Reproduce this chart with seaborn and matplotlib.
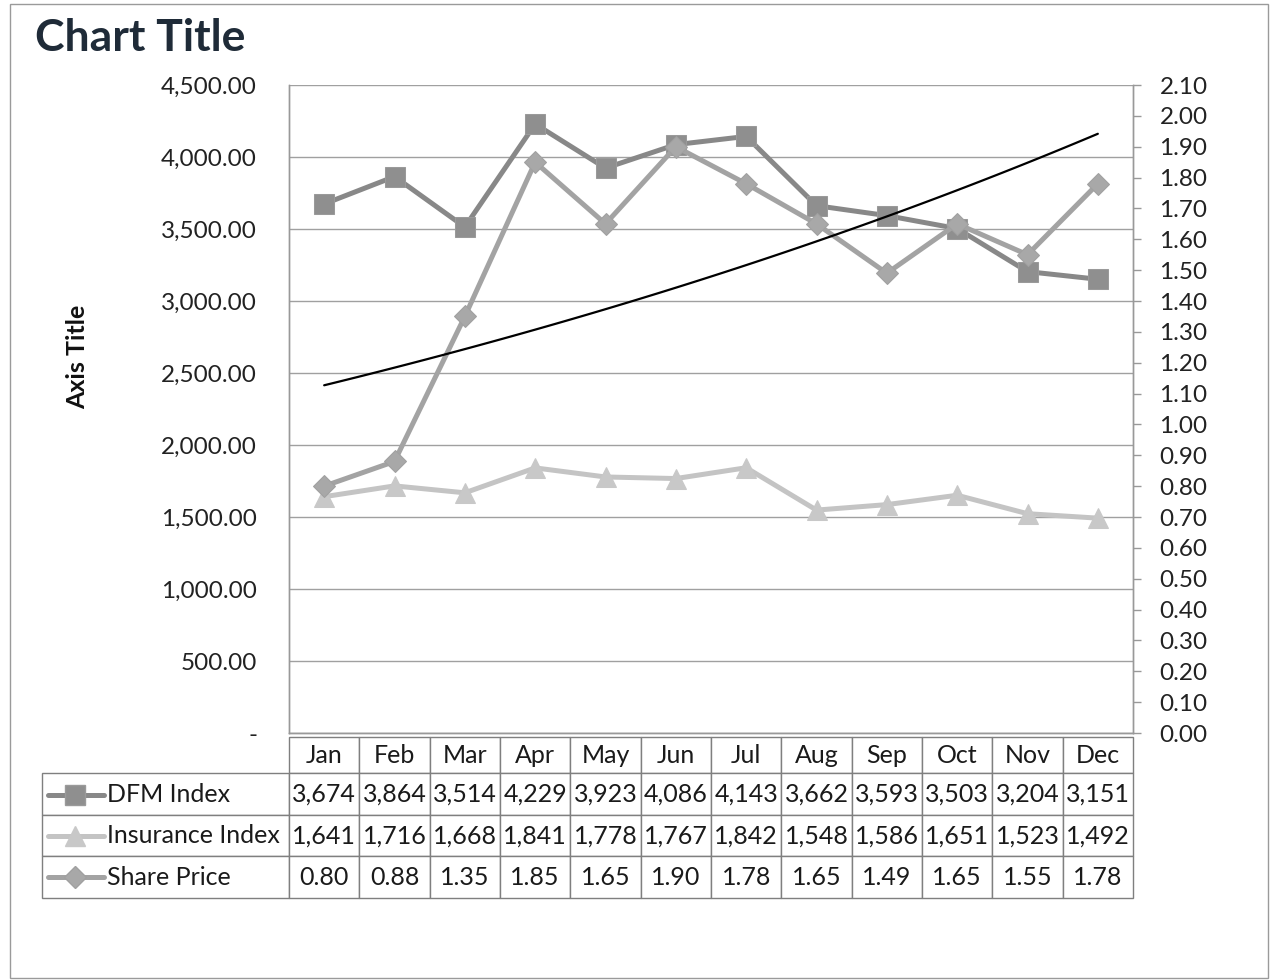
import numpy as np
import matplotlib
matplotlib.use('Agg')
import matplotlib.pyplot as plt
import seaborn as sns
from matplotlib.lines import Line2D
from matplotlib.patches import Rectangle
from matplotlib.ticker import FuncFormatter

months = ['Jan', 'Feb', 'Mar', 'Apr', 'May', 'Jun', 'Jul', 'Aug', 'Sep', 'Oct', 'Nov', 'Dec']
dfm_index = [3674, 3864, 3514, 4229, 3923, 4086, 4143, 3662, 3593, 3503, 3204, 3151]
insurance_index = [1641, 1716, 1668, 1841, 1778, 1767, 1842, 1548, 1586, 1651, 1523, 1492]
share_price = [0.80, 0.88, 1.35, 1.85, 1.65, 1.90, 1.78, 1.65, 1.49, 1.65, 1.55, 1.78]
series_names = ['DFM Index', 'Insurance Index', 'Share Price']

sns.set_style('white')
plt.rcParams['font.family'] = ['Lato', 'DejaVu Sans']

W, H = 1271, 980
fig = plt.figure(figsize=(W / 100, H / 100), dpi=100)

def fx(px):
    return px / W

def fy(py):
    return 1 - py / H

# plot area
ax = fig.add_axes([fx(289), fy(733), fx(1133) - fx(289), fy(85) - fy(733)])
ax2 = ax.twinx()

x = np.arange(len(months))
c_dfm = '#888888'
c_ins = '#c4c4c4'
c_sp = '#a3a3a3'
lw = 3.6

dfm_style = dict(color=c_dfm, marker='s', markersize=15, markerfacecolor='#8f8f8f', markeredgecolor='#9a9a9a')
ins_style = dict(color=c_ins, marker='^', markersize=14, markerfacecolor='#c8c8c8', markeredgecolor='#c8c8c8')
sp_style = dict(color=c_sp, marker='D', markersize=11, markerfacecolor='#a8a8a8', markeredgecolor='#a0a0a0')

sns.lineplot(x=x, y=dfm_index, ax=ax, sort=False, lw=lw, **dfm_style)
sns.lineplot(x=x, y=insurance_index, ax=ax, sort=False, lw=lw, **ins_style)
sns.lineplot(x=x, y=share_price, ax=ax2, sort=False, lw=lw, **sp_style)

# exponential trendline of share price (like Excel)
t = x + 1
b, a = np.polyfit(t, np.log(share_price), 1)
tt = np.linspace(1, 12, 100)
ax2.plot(tt - 1, np.exp(a + b * tt), color='black', lw=1.6)

ax.set_xlim(-0.5, 11.5)
ax.set_ylim(0, 4500)
ax.set_yticks(np.arange(0, 4501, 500))
ax.yaxis.set_major_formatter(FuncFormatter(lambda v, p: '-' if v == 0 else f'{v:,.2f}'))
ax2.set_ylim(0, 2.1)
ax2.set_yticks(np.arange(0, 2.101, 0.1))
ax2.yaxis.set_major_formatter(FuncFormatter(lambda v, p: f'{v:.2f}'))

ax.set_xticks([])
ax.grid(axis='y', color='#a0a0a0', lw=1)
ax.tick_params(axis='y', length=0, pad=23, labelsize=17.5, labelcolor='#222222')
ax2.tick_params(axis='y', length=6, width=1, color='#999999', pad=13, labelsize=17.5, labelcolor='#222222')
ax.set_xlabel('')
ax.set_ylabel('')
ax2.set_ylabel('')
ax.spines['top'].set_visible(False)
ax2.spines['top'].set_visible(False)
for a_ in (ax, ax2):
    for sp in a_.spines.values():
        sp.set_color('#999999')
        sp.set_linewidth(1)

# data table below the plot
cell_text = [[series_names[0]] + [f'{v:,}' for v in dfm_index],
             [series_names[1]] + [f'{v:,}' for v in insurance_index],
             [series_names[2]] + [f'{v:.2f}' for v in share_price]]
ax_w = 1133 - 289
ax_h = 733 - 85
tbl = ax.table(cellText=cell_text, colLabels=[''] + months, cellLoc='center',
               colWidths=[247] + [70.33] * 12,
               bbox=[(42 - 289) / ax_w, (733 - 898) / ax_h, (1133 - 42) / ax_w, (898 - 737) / ax_h])
tbl.auto_set_font_size(False)
tbl.set_fontsize(18)
for (r, c), cell in tbl.get_celld().items():
    cell.set_edgecolor('#7f7f7f')
    cell.set_linewidth(1)
    cell.set_height(36 if r == 0 else 41)
    cell.get_text().set_color('#1a1a1a')
    if r == 0 and c == 0:
        cell.visible_edges = ''
    if c == 0 and r > 0:
        cell.get_text().set_horizontalalignment('left')
        cell.PAD = 65 / 247

# legend keys inside the table
key_y = [795, 836, 877]
for ky, st in zip(key_y, [dfm_style, ins_style, sp_style]):
    fig.add_artist(Line2D([fx(48), fx(75), fx(104)], [fy(ky)] * 3, lw=lw, markevery=[1], **st))

# titles
fig.text(fx(35), fy(38), 'Chart Title', fontsize=32, fontweight='bold', color='#1f2b38', va='center', ha='left')
fig.text(fx(78), fy(357), 'Axis Title', fontsize=18, fontweight='bold', rotation=90,
         va='center', ha='center', color='#111111')

# outer chart border
fig.add_artist(Rectangle((fx(10), fy(978)), fx(1268) - fx(10), fy(4) - fy(978),
                         fill=False, edgecolor='#9a9a9a', lw=1, transform=fig.transFigure))

fig.savefig('out.png', dpi=100, facecolor='white')
